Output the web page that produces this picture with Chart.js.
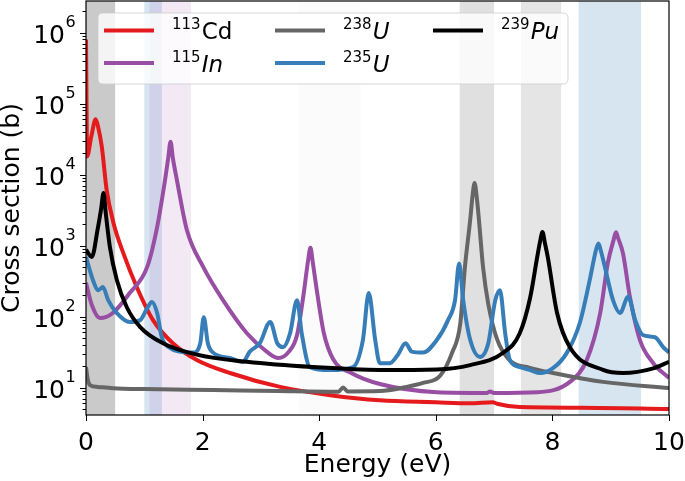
<!DOCTYPE html>
<html><head><meta charset="utf-8">
<script src="https://cdn.jsdelivr.net/npm/chart.js@4/dist/chart.umd.min.js"></script>
<style>html,body{margin:0;padding:0;background:#fff;} canvas{display:block;}</style>
</head><body>
<canvas id="c" width="685" height="481"></canvas>
<script>
// ---- data ----
const energyCd = [0, 0.02, 0.09, 0.166, 0.21, 0.27, 0.355, 0.47, 0.64, 0.87, 1.15, 1.49, 1.90, 2.47, 3.33, 4.19, 5.04, 6.0, 6.59, 6.98, 7.05, 7.44, 8.5, 10];
const sigmaCd  = [8e5, 1.8e4, 3.4e4, 6.0e4, 4.6e4, 2.5e4, 6.0e3, 2.1e3, 780, 261, 89, 42, 24.4, 16, 10.2, 7.8, 6.6, 6.2, 6.0, 6.2, 5.9, 5.3, 5.2, 5.0];

const energyIn = [0, 0.1, 0.24, 0.46, 0.75, 1.05, 1.22, 1.355, 1.41, 1.45, 1.49, 1.56, 1.73, 2.01, 2.35, 2.76, 3.10, 3.30, 3.48, 3.62, 3.73, 3.81, 3.85, 3.89, 3.96, 4.08, 4.24, 4.55, 5.04, 6.02, 6.88, 6.93, 7.0, 7.74, 8.30, 8.59, 8.82, 8.95, 9.05, 9.09, 9.13, 9.21, 9.33, 9.50, 9.73, 10];
const sigmaIn  = [300, 145, 95, 112, 214, 500, 1820, 8300, 17000, 29000, 17000, 8300, 1650, 500, 170, 58, 32, 26, 32, 55, 200, 620, 930, 580, 230, 58, 25, 16, 11.2, 8.6, 8.4, 8.8, 8.4, 8.6, 12, 24.5, 112, 565, 1200, 1540, 1250, 780, 187, 47, 22, 13.6];

const energyU238 = [0, 0.03, 0.07, 0.2, 0.46, 1.0, 2.18, 3.3, 4.33, 4.41, 4.49, 5.04, 5.5, 5.78, 6.07, 6.28, 6.42, 6.50, 6.59, 6.63, 6.665, 6.70, 6.74, 6.81, 6.90, 7.05, 7.27, 7.6, 8.01, 8.87, 10];
const sigmaU238  = [19.5, 13, 10.8, 10.2, 9.8, 9.5, 9.2, 8.9, 8.7, 10, 8.8, 8.9, 10.2, 11.6, 14.5, 31, 80, 500, 2300, 5000, 7600, 5000, 2300, 500, 150, 48, 24, 19, 16, 12, 9.8];

const energyU235 = [0, 0.12, 0.21, 0.29, 0.38, 0.53, 0.75, 0.93, 1.06, 1.13, 1.22, 1.30, 1.44, 1.61, 1.84, 1.96, 2.02, 2.09, 2.18, 2.47, 2.69, 2.81, 2.98, 3.16, 3.28, 3.38, 3.50, 3.62, 3.70, 3.84, 4.19, 4.58, 4.75, 4.85, 4.96, 5.04, 5.21, 5.35, 5.48, 5.59, 5.78, 6.02, 6.21, 6.33, 6.40, 6.47, 6.59, 6.76, 6.90, 7.02, 7.10, 7.19, 7.27, 7.44, 7.62, 7.79, 8.01, 8.25, 8.47, 8.64, 8.75, 8.79, 8.83, 8.90, 9.04, 9.16, 9.30, 9.42, 9.55, 9.76, 9.90, 10];
const sigmaU235  = [690, 325, 235, 260, 170, 112, 84, 89, 136, 160, 112, 51, 36, 32, 31, 42, 98, 42, 31, 26, 23, 32, 42, 84, 42, 37, 58, 170, 58, 19.4, 17.6, 19.4, 47, 214, 47, 22, 22, 29, 42, 32, 31, 47, 89, 170, 560, 170, 47, 27, 42, 170, 235, 58, 24.4, 19.4, 17.6, 16, 18.7, 31, 81, 325, 880, 1070, 850, 500, 170, 112, 190, 89, 55, 51, 37, 31];

const energyPu = [0, 0.1, 0.2, 0.26, 0.30, 0.34, 0.41, 0.53, 0.70, 0.93, 1.32, 1.90, 2.76, 3.89, 5.04, 6.02, 6.59, 7.15, 7.44, 7.62, 7.74, 7.79, 7.83, 7.87, 7.92, 8.08, 8.30, 8.87, 9.21, 9.73, 10];
const sigmaPu  = [870, 690, 1700, 3300, 5500, 2800, 950, 325, 135, 71, 42, 29, 23, 19.4, 17.7, 18, 20.7, 30.6, 58, 187, 690, 1150, 1550, 1100, 690, 112, 37, 17.7, 16, 18.6, 23];

const seriesNames = ['113Cd', '115In', '238U', '235U', '239Pu'];
const massNumbers = ['113', '115', '238', '235', '239'];
const elementSymbols = ['Cd', 'In', 'U', 'U', 'Pu'];

const bandStart = [0, 1.0, 1.09, 3.65, 6.41, 7.46, 8.45];
const bandEnd   = [0.5, 1.3, 1.8, 4.71, 7.0, 8.15, 9.52];

const yTickExponents = [1, 2, 3, 4, 5, 6];
const xTickValues = [0, 2, 4, 6, 8, 10];

// ---- styles ----
const lineColors = ['#e41a1c', '#984ea3', '#666666', '#377eb8', '#000000'];
const bandColors = ['rgba(102,102,102,0.35)', 'rgba(55,126,184,0.2)', 'rgba(152,78,163,0.12)', 'rgba(0,0,0,0.015)', 'rgba(102,102,102,0.2)', 'rgba(0,0,0,0.1)', 'rgba(55,126,184,0.2)'];
const italicSymbol = [false, true, true, true, true];
const FONT = "'DejaVu Sans', sans-serif";

Chart.defaults.font.family = FONT;
Chart.defaults.color = '#000';

const energies = [energyCd, energyIn, energyU238, energyU235, energyPu];
const sigmas = [sigmaCd, sigmaIn, sigmaU238, sigmaU235, sigmaPu];

const datasets = seriesNames.map((name, i) => ({
  label: name,
  data: energies[i].map((e, k) => ({x: e, y: sigmas[i][k]})),
  borderColor: lineColors[i],
  backgroundColor: lineColors[i],
  borderWidth: 4,
  pointRadius: 0,
  fill: false,
  cubicInterpolationMode: 'monotone',
  order: 5 - i
}));

const bandsPlugin = {
  id: 'bands',
  beforeDatasetsDraw(chart) {
    const {ctx, chartArea: a, scales: {x}} = chart;
    ctx.save();
    bandStart.forEach((s, i) => {
      const x0 = x.getPixelForValue(s), x1 = x.getPixelForValue(bandEnd[i]);
      ctx.fillStyle = bandColors[i];
      ctx.fillRect(x0, a.top, x1 - x0, a.bottom - a.top);
    });
    ctx.restore();
  }
};

const axesPlugin = {
  id: 'axesMarks',
  afterDatasetsDraw(chart) {
    const {ctx, chartArea: a, scales: {x, y}} = chart;
    ctx.save();
    ctx.strokeStyle = '#000';
    ctx.lineWidth = 1;
    for (let e = 0; e <= 7; e++) {
      for (let m = 1; m <= 9; m++) {
        const v = m * Math.pow(10, e);
        if (v < y.min || v > y.max) continue;
        const py = Math.round(y.getPixelForValue(v)) + 0.5;
        const len = m === 1 ? 6 : 3.5;
        ctx.beginPath(); ctx.moveTo(a.left - len, py); ctx.lineTo(a.left, py); ctx.stroke();
      }
    }
    xTickValues.forEach(v => {
      const px = Math.round(x.getPixelForValue(v)) + 0.5;
      ctx.beginPath(); ctx.moveTo(px, a.bottom); ctx.lineTo(px, a.bottom + 6); ctx.stroke();
    });
    ctx.lineWidth = 1.2;
    ctx.strokeRect(a.left, a.top, a.right - a.left, a.bottom - a.top);
    // y tick labels: 10 with superscript exponent
    ctx.fillStyle = '#000';
    yTickExponents.forEach(ex => {
      const py = y.getPixelForValue(Math.pow(10, ex));
      const xr = a.left - 21;
      ctx.textAlign = 'right';
      ctx.textBaseline = 'alphabetic';
      ctx.font = '25px ' + FONT;
      ctx.fillText('10', xr, py + 10.5);
      ctx.textAlign = 'left';
      ctx.font = '16px ' + FONT;
      ctx.fillText(String(ex), xr + 0.5, py - 5.5);
    });
    ctx.restore();
  }
};

const legendPlugin = {
  id: 'isoLegend',
  afterDraw(chart) {
    const {ctx} = chart;
    ctx.save();
    const bx = 98, by = 13, bw = 470, bh = 71, r = 5;
    ctx.beginPath();
    ctx.moveTo(bx + r, by); ctx.lineTo(bx + bw - r, by); ctx.quadraticCurveTo(bx + bw, by, bx + bw, by + r);
    ctx.lineTo(bx + bw, by + bh - r); ctx.quadraticCurveTo(bx + bw, by + bh, bx + bw - r, by + bh);
    ctx.lineTo(bx + r, by + bh); ctx.quadraticCurveTo(bx, by + bh, bx, by + bh - r);
    ctx.lineTo(bx, by + r); ctx.quadraticCurveTo(bx, by, bx + r, by);
    ctx.closePath();
    ctx.fillStyle = 'rgba(255,255,255,0.8)';
    ctx.fill();
    ctx.strokeStyle = 'rgba(204,204,204,0.8)';
    ctx.lineWidth = 1;
    ctx.stroke();
    const colX = [104, 275, 433];
    const rowY = [30.5, 63];
    seriesNames.forEach((name, i) => {
      const col = Math.floor(i / 2), row = i % 2;
      const lx = colX[col], ly = rowY[row];
      ctx.strokeStyle = lineColors[i];
      ctx.lineWidth = 4;
      ctx.beginPath(); ctx.moveTo(lx, ly); ctx.lineTo(lx + 50, ly); ctx.stroke();
      let tx = lx + 68;
      ctx.fillStyle = '#000';
      ctx.textBaseline = 'alphabetic';
      ctx.textAlign = 'left';
      ctx.font = "15px " + FONT;
      ctx.fillText(massNumbers[i], tx, ly - 1.5);
      tx += ctx.measureText(massNumbers[i]).width + 1;
      ctx.font = (italicSymbol[i] ? 'italic ' : '') + "23px " + FONT;
      ctx.fillText(elementSymbols[i], tx, ly + 8.5);
    });
    ctx.restore();
  }
};

new Chart(document.getElementById('c'), {
  type: 'line',
  data: {datasets},
  plugins: [bandsPlugin, axesPlugin, legendPlugin],
  options: {
    responsive: false,
    animation: false,
    devicePixelRatio: 1,
    layout: {padding: {top: 1, right: 16, left: 0, bottom: 0}},
    plugins: {legend: {display: false}, tooltip: {enabled: false}},
    scales: {
      x: {
        type: 'linear', min: 0, max: 10,
        afterFit(s) { s.height = 66; s.paddingLeft = 0; s.paddingRight = 0; },
        grid: {display: false, drawTicks: false},
        border: {display: false},
        ticks: {stepSize: 2, padding: 13, font: {size: 25}, color: '#000', maxRotation: 0},
        title: {display: true, text: 'Energy (eV)', font: {size: 25, lineHeight: 1.2}, color: '#000', padding: {top: 0, bottom: 1}}
      },
      y: {
        type: 'logarithmic', min: 4.1, max: 2.78e6,
        afterFit(s) { s.width = 86; s.paddingTop = 0; s.paddingBottom = 0; },
        grid: {display: false, drawTicks: false},
        border: {display: false},
        ticks: {display: false},
        title: {display: true, text: 'Cross section (b)', font: {size: 25, lineHeight: 1}, color: '#000', padding: {top: 0, bottom: 0}}
      }
    }
  }
});
</script>
</body></html>
